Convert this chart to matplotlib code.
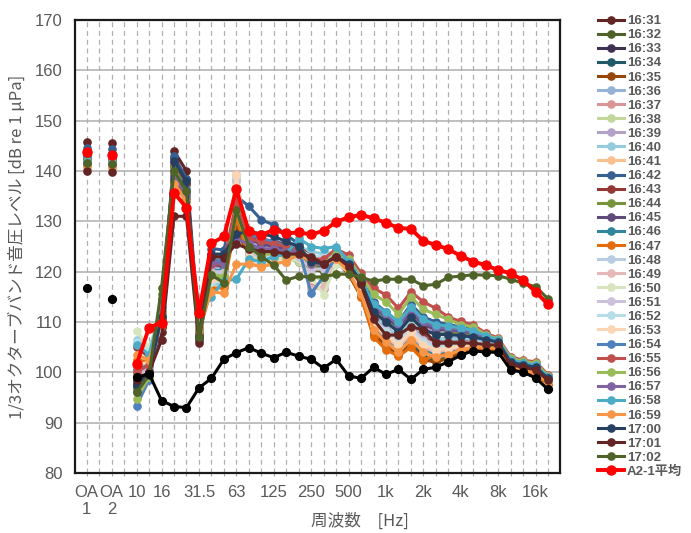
import matplotlib
matplotlib.use("Agg")
import numpy as np
import matplotlib.pyplot as plt
from matplotlib.font_manager import FontProperties

# ---- category axis: two overall values, then 1/3-octave bands 10 Hz .. 20 kHz ----
categories = ["OA\n1", "", "OA\n2", "",
              "10", "", "16", "", "", "31.5", "", "", "63", "", "", "125", "", "",
              "250", "", "", "500", "", "", "1k", "", "", "2k", "", "", "4k", "", "",
              "8k", "", "", "16k", ""]

times = ["16:31", "16:32", "16:33", "16:34", "16:35", "16:36", "16:37", "16:38",
         "16:39", "16:40", "16:41", "16:42", "16:43", "16:44", "16:45", "16:46",
         "16:47", "16:48", "16:49", "16:50", "16:51", "16:52", "16:53", "16:54",
         "16:55", "16:56", "16:57", "16:58", "16:59", "17:00", "17:01", "17:02"]

colors = ["#632523", "#4F6228", "#3F3151", "#215968", "#974807",
          "#95B3D7", "#D99694", "#C3D69B", "#B3A2C7", "#93CDDD", "#FAC090",
          "#376092", "#953735", "#77933C", "#604A7B", "#31859C", "#E46C0A",
          "#B9CDE5", "#E6B9B8", "#D7E4BD", "#CCC1DA", "#B7DEE8", "#FCD5B5",
          "#4F81BD", "#C0504D", "#9BBB59", "#8064A2", "#4BACC6", "#F79646",
          "#254061", "#632523", "#4F6228"]

# overall levels (OA1, OA2) per minute
oa1 = [145.7, 142.0, 141.0, 140.5, 140.8, 141.8, 141.5, 141.3, 141.6, 141.9, 140.6,
       144.5, 143.0, 142.5, 142.2, 141.2, 140.9, 140.7, 140.4, 140.2, 140.3, 140.5,
       140.1, 142.8, 142.0, 142.0, 141.5, 141.8, 141.0, 143.5, 140.0, 141.5]
oa2 = [145.6, 141.8, 140.8, 140.3, 140.6, 141.5, 141.2, 141.0, 141.4, 141.7, 140.4,
       144.4, 142.8, 142.3, 142.0, 141.0, 140.7, 140.5, 140.2, 140.0, 140.1, 140.3,
       140.0, 142.6, 141.8, 141.8, 141.3, 141.6, 140.8, 143.3, 139.9, 141.3]

# 1/3-octave band levels per minute (10 Hz .. 20 kHz, 34 bands)
bands = [
    # 16:31
    [100.5, 102.0, 108.0, 144.0, 140.0, 108.5, 121.0, 121.5, 131.0, 126.0,
     125.0, 124.5, 124.0, 124.0, 122.0, 121.5, 123.0, 121.0, 117.0, 110.5,
     108.5, 106.5, 109.0, 106.5, 105.5, 105.5, 105.8, 105.8, 105.5, 105.2,
     101.5, 101.0, 100.6, 98.5],
    # 16:32
    [97.5, 100.5, 114.5, 141.0, 137.5, 107.5, 119.5, 119.0, 133.0, 124.5,
     123.5, 123.0, 122.5, 122.0, 120.5, 120.0, 122.0, 120.0, 116.0, 109.0,
     107.0, 105.0, 107.5, 104.5, 104.0, 104.5, 105.0, 105.5, 105.3, 105.0,
     101.2, 100.8, 100.2, 98.0],
    # 16:33
    [98.0, 100.0, 109.0, 142.5, 138.5, 106.5, 120.5, 120.0, 128.5, 125.5,
     124.5, 124.0, 123.5, 123.0, 121.0, 121.0, 122.5, 120.5, 116.5, 110.0,
     108.0, 106.0, 108.5, 106.0, 105.0, 105.2, 105.5, 105.8, 105.5, 105.2,
     101.3, 100.9, 100.4, 98.3],
    # 16:34
    [99.0, 101.0, 110.5, 139.5, 135.5, 107.0, 118.5, 119.5, 129.5, 124.0,
     123.0, 123.0, 123.0, 123.5, 121.5, 121.0, 123.0, 120.0, 115.5, 108.0,
     105.0, 104.0, 106.0, 103.0, 102.5, 103.0, 104.0, 104.8, 104.8, 104.6,
     100.8, 100.4, 99.8, 97.8],
    # 16:35
    [99.5, 100.5, 109.5, 138.0, 134.0, 108.0, 119.0, 120.0, 128.0, 123.5,
     122.5, 122.5, 122.0, 123.0, 120.5, 120.5, 122.0, 119.5, 115.0, 107.5,
     105.5, 103.5, 105.5, 102.5, 102.0, 102.8, 103.8, 104.5, 104.6, 104.5,
     100.7, 100.3, 99.7, 97.6],
    # 16:36
    [100.0, 101.5, 110.0, 137.5, 134.5, 109.5, 120.5, 120.0, 135.5, 125.0,
     124.0, 124.5, 124.0, 124.5, 122.0, 122.0, 123.5, 121.0, 117.5, 111.5,
     109.0, 107.0, 109.5, 107.5, 106.5, 106.8, 106.8, 106.8, 106.2, 105.8,
     101.8, 101.3, 100.8, 98.6],
    # 16:37
    [99.5, 101.0, 110.5, 137.0, 134.0, 110.0, 119.5, 119.0, 136.5, 124.5,
     123.0, 123.5, 123.0, 123.0, 117.0, 116.5, 122.0, 121.0, 117.0, 111.0,
     108.5, 106.5, 109.0, 107.0, 106.0, 106.0, 106.2, 106.4, 106.0, 105.6,
     101.6, 101.2, 100.7, 98.5],
    # 16:38
    [101.0, 102.0, 111.0, 136.5, 133.5, 109.0, 118.0, 118.5, 137.0, 123.0,
     122.0, 122.5, 122.5, 122.0, 119.5, 118.0, 121.5, 120.5, 117.5, 112.0,
     110.0, 108.0, 110.5, 108.5, 107.5, 107.5, 107.5, 107.3, 106.5, 106.0,
     102.0, 101.5, 101.0, 98.8],
    # 16:39
    [98.5, 100.5, 111.5, 139.0, 135.5, 109.5, 121.0, 121.0, 134.0, 126.0,
     125.0, 124.5, 124.0, 124.0, 121.5, 121.5, 123.0, 121.5, 118.0, 112.5,
     110.5, 108.5, 111.5, 109.0, 108.0, 108.0, 107.8, 107.5, 106.8, 106.2,
     102.1, 101.6, 101.0, 98.8],
    # 16:40
    [106.5, 104.5, 112.5, 136.0, 133.5, 111.0, 117.5, 117.5, 138.0, 122.5,
     122.0, 123.0, 123.5, 125.0, 124.0, 123.5, 124.0, 121.5, 117.0, 111.0,
     109.0, 107.0, 110.0, 107.5, 106.5, 106.5, 106.5, 106.6, 106.0, 105.5,
     101.5, 101.1, 100.5, 98.4],
    # 16:41
    [102.0, 102.5, 111.0, 136.0, 133.0, 110.5, 117.0, 116.5, 138.5, 122.0,
     121.0, 122.0, 122.5, 123.5, 122.5, 122.5, 123.5, 121.0, 116.5, 110.5,
     108.0, 106.0, 108.5, 106.0, 105.0, 105.2, 105.5, 105.8, 105.6, 105.2,
     101.3, 100.9, 100.3, 98.2],
    # 16:42
    [98.0, 100.5, 112.0, 143.0, 138.5, 107.5, 124.6, 124.3, 135.0, 133.0,
     130.3, 129.3, 127.3, 125.5, 121.5, 121.5, 123.0, 122.0, 119.0, 114.0,
     112.0, 110.0, 113.5, 111.0, 110.0, 109.5, 109.0, 108.5, 107.5, 106.5,
     102.5, 102.0, 101.5, 99.2],
    # 16:43
    [105.0, 103.0, 109.0, 141.5, 137.5, 108.0, 123.3, 123.0, 131.5, 127.0,
     126.5, 126.0, 125.5, 125.0, 123.0, 122.5, 123.5, 121.5, 117.5, 110.5,
     108.5, 106.5, 108.8, 106.8, 106.0, 106.0, 106.0, 106.0, 105.7, 105.3,
     101.6, 101.2, 100.7, 98.6],
    # 16:44
    [96.5, 99.5, 115.5, 140.5, 136.5, 108.0, 119.0, 118.5, 132.5, 124.0,
     123.0, 123.0, 122.5, 122.5, 121.0, 120.5, 122.5, 121.5, 117.5, 112.0,
     110.5, 108.5, 111.0, 108.5, 107.5, 107.8, 107.6, 107.4, 106.8, 106.2,
     102.2, 101.6, 101.1, 98.9],
    # 16:45
    [97.0, 100.0, 110.5, 139.5, 136.0, 107.5, 121.5, 121.0, 130.0, 126.5,
     125.5, 125.0, 124.5, 124.5, 122.5, 122.0, 123.5, 121.5, 118.0, 113.0,
     111.0, 109.0, 112.0, 109.5, 108.5, 108.5, 108.2, 107.8, 107.0, 106.3,
     102.3, 101.8, 101.3, 99.0],
    # 16:46
    [100.5, 101.5, 111.0, 138.5, 135.0, 108.5, 120.0, 120.5, 132.0, 125.0,
     124.0, 124.0, 123.5, 124.0, 122.0, 122.0, 123.5, 121.0, 116.5, 109.5,
     106.5, 105.0, 107.0, 104.5, 103.5, 104.0, 104.8, 105.3, 105.2, 105.0,
     101.1, 100.7, 100.1, 98.1],
    # 16:47
    [102.5, 102.0, 109.5, 137.5, 134.0, 108.0, 116.5, 117.0, 130.5, 123.0,
     122.5, 122.5, 123.0, 124.5, 121.5, 121.5, 122.5, 120.0, 115.0, 107.0,
     104.5, 103.2, 105.0, 102.4, 103.4, 103.5, 104.2, 104.8, 104.8, 104.6,
     100.6, 100.3, 99.6, 97.6],
    # 16:48
    [100.0, 101.0, 110.0, 137.0, 134.0, 109.5, 119.5, 119.5, 138.5, 124.0,
     123.0, 123.5, 123.5, 124.0, 122.5, 122.0, 123.5, 121.0, 116.5, 110.0,
     107.5, 105.5, 108.0, 105.5, 104.5, 104.8, 105.2, 105.6, 105.5, 105.2,
     101.3, 100.8, 100.3, 98.2],
    # 16:49
    [99.0, 100.5, 110.5, 136.5, 133.5, 110.5, 118.5, 118.0, 139.5, 123.5,
     122.5, 123.0, 123.0, 123.5, 116.5, 117.0, 122.0, 120.5, 116.0, 109.5,
     107.0, 105.0, 107.5, 105.0, 104.0, 104.5, 105.0, 105.4, 105.3, 105.0,
     101.2, 100.7, 100.2, 98.1],
    # 16:50
    [108.2, 105.0, 111.5, 135.5, 133.0, 109.0, 118.0, 118.5, 139.0, 123.0,
     122.0, 122.5, 122.0, 122.5, 119.0, 115.4, 121.5, 120.0, 116.0, 110.0,
     108.0, 106.0, 108.5, 106.0, 105.0, 105.2, 105.6, 105.8, 105.6, 105.2,
     101.4, 100.9, 100.4, 98.3],
    # 16:51
    [98.5, 100.5, 110.0, 137.0, 134.5, 109.0, 120.0, 120.0, 138.0, 124.5,
     123.5, 123.5, 123.0, 123.0, 120.5, 120.5, 122.5, 120.5, 116.5, 110.5,
     108.5, 106.5, 109.0, 106.5, 105.5, 105.6, 105.8, 106.0, 105.8, 105.4,
     101.5, 101.0, 100.5, 98.4],
    # 16:52
    [106.0, 104.0, 111.5, 136.0, 133.0, 111.0, 118.0, 118.0, 139.0, 123.0,
     122.5, 123.0, 123.5, 124.5, 123.0, 123.0, 124.0, 121.0, 116.5, 110.5,
     108.0, 106.0, 108.5, 106.0, 105.0, 105.3, 105.6, 105.8, 105.5, 105.1,
     101.4, 100.9, 100.4, 98.3],
    # 16:53
    [101.5, 102.0, 110.5, 136.5, 133.5, 110.5, 118.5, 118.0, 139.2, 123.0,
     122.0, 122.5, 123.0, 124.0, 122.0, 122.0, 123.0, 120.5, 116.0, 109.5,
     107.5, 105.5, 108.0, 105.5, 104.5, 104.8, 105.2, 105.5, 105.4, 105.1,
     101.3, 100.8, 100.2, 98.2],
    # 16:54
    [93.4, 98.5, 111.5, 140.0, 136.5, 108.5, 122.5, 122.0, 133.5, 127.5,
     126.5, 126.0, 125.0, 124.5, 115.7, 119.0, 123.0, 122.0, 118.5, 113.5,
     111.5, 109.5, 112.5, 110.0, 109.0, 108.8, 108.5, 108.0, 107.2, 106.4,
     102.4, 101.9, 101.4, 99.1],
    # 16:55
    [100.0, 101.5, 110.5, 138.0, 134.5, 110.0, 121.5, 121.5, 134.0, 126.5,
     126.0, 125.5, 125.0, 124.5, 122.5, 122.5, 124.5, 123.3, 119.7, 116.7,
     115.4, 112.7, 116.0, 114.0, 112.7, 111.0, 110.1, 109.4, 107.8, 106.8,
     103.1, 102.4, 102.1, 99.5],
    # 16:56
    [94.8, 99.0, 112.0, 139.5, 135.5, 108.5, 119.5, 119.0, 132.0, 124.5,
     123.5, 123.5, 123.0, 123.5, 121.5, 121.5, 123.5, 122.5, 119.0, 115.5,
     114.0, 111.5, 115.0, 112.5, 111.5, 110.5, 109.5, 109.0, 107.5, 106.6,
     102.8, 102.2, 101.8, 99.3],
    # 16:57
    [96.0, 99.5, 111.0, 139.0, 135.5, 109.0, 122.0, 121.5, 126.5, 125.5,
     124.5, 124.5, 124.0, 124.0, 121.5, 121.5, 123.0, 121.5, 118.0, 113.0,
     111.5, 109.5, 112.5, 110.0, 109.0, 108.8, 108.5, 108.0, 107.0, 106.3,
     102.3, 101.8, 101.3, 99.0],
    # 16:58
    [105.5, 103.5, 113.0, 137.5, 134.0, 111.5, 115.0, 118.2, 118.5, 122.5,
     122.0, 123.0, 123.5, 126.6, 125.0, 124.6, 125.0, 122.0, 118.5, 113.5,
     112.0, 110.0, 113.0, 110.5, 109.5, 109.2, 108.8, 108.3, 107.3, 106.4,
     102.4, 101.9, 101.4, 99.1],
    # 16:59
    [103.5, 102.5, 110.0, 137.5, 134.0, 109.0, 116.0, 115.7, 121.5, 121.5,
     121.0, 121.5, 122.0, 123.5, 122.0, 121.5, 122.5, 120.0, 115.5, 108.5,
     106.0, 104.0, 106.5, 104.0, 103.0, 103.5, 104.5, 105.0, 105.0, 104.8,
     100.9, 100.5, 99.9, 98.0],
    # 17:00
    [97.5, 100.0, 111.0, 142.0, 138.0, 107.0, 123.5, 123.5, 127.5, 128.0,
     127.5, 127.0, 126.0, 125.0, 122.0, 121.5, 123.0, 121.5, 118.0, 112.0,
     110.0, 108.0, 111.0, 108.5, 107.5, 107.5, 107.3, 107.0, 106.5, 106.0,
     102.0, 101.5, 101.0, 98.8],
    # 17:01
    [98.5, 100.0, 106.4, 131.0, 131.0, 105.8, 123.0, 122.8, 125.5, 124.5,
     124.0, 124.0, 123.5, 123.5, 123.0, 121.5, 123.0, 121.0, 117.5, 110.5,
     107.4, 107.4, 109.1, 108.4, 105.8, 105.8, 105.8, 105.8, 105.5, 105.4,
     101.5, 101.0, 100.5, 98.4],
    # 17:02
    [96.0, 99.5, 116.8, 140.0, 136.0, 107.0, 119.3, 117.8, 132.2, 125.0,
     123.0, 121.3, 118.3, 119.1, 118.9, 119.0, 119.5, 119.5, 118.9, 118.1,
     118.5, 118.5, 118.5, 117.2, 117.5, 118.9, 119.1, 119.4, 119.3, 119.2,
     118.5, 117.7, 117.0, 114.6],
]

# average over the period
mean_label = "A2-1平均"
mean_oa = [143.8, 143.2]
mean_bands = [101.6, 108.9, 109.9, 135.7, 132.7, 111.8, 125.6, 127.0, 136.4, 128.0,
              127.3, 128.3, 127.6, 127.8, 127.4, 128.1, 129.9, 130.8, 131.3, 130.6,
              129.7, 128.7, 128.5, 126.1, 125.3, 124.5, 123.1, 122.0, 121.3, 120.3,
              119.7, 118.3, 116.0, 113.5]

# background level
bg_oa = [116.7, 114.5]
bg_bands = [99.0, 99.7, 94.4, 93.2, 93.0, 96.9, 98.8, 102.6, 103.9, 104.9,
            103.8, 102.9, 104.0, 103.2, 102.6, 100.8, 102.6, 99.3, 98.8, 101.0,
            99.6, 100.6, 98.6, 100.6, 101.0, 102.1, 103.4, 104.3, 104.0, 104.0,
            100.5, 100.0, 98.9, 96.6]


def row(oa_a, oa_b, band_vals):
    return np.array([oa_a, np.nan, oa_b, np.nan] + list(band_vals), dtype=float)


GRAY = "#595959"
x = np.arange(len(categories))

fig = plt.figure(figsize=(6.91, 5.33), dpi=100)
ax = fig.add_axes([75 / 691, 60 / 533, 485.3 / 691, 453 / 533])

handles = []
for name, col, a, b, vals in zip(times, colors, oa1, oa2, bands):
    ln, = ax.plot(x, row(a, b, vals), color=col, lw=2.2, marker="o", ms=5.2,
                  mec=col, mfc=col, label=name, zorder=3)
    handles.append(ln)

ax.plot(x, row(bg_oa[0], bg_oa[1], bg_bands), color="black", lw=2.2, marker="o",
        ms=5.6, label="_nolegend_", zorder=4)
ln_mean, = ax.plot(x, row(mean_oa[0], mean_oa[1], mean_bands), color="#FF0000",
                   lw=2.8, marker="o", ms=6.5, label=mean_label, zorder=5)
handles.append(ln_mean)

ax.set_xlim(-0.94, 37.98)
ax.set_ylim(80, 170)
ax.set_yticks(np.arange(80, 171, 10))
ax.set_xticks(x)
ax.set_xticklabels(categories, fontsize=12, color=GRAY, family="Liberation Sans",
                   linespacing=1.15)
for t in ax.get_yticklabels():
    t.set_fontsize(12)
    t.set_color(GRAY)
    t.set_family("Liberation Sans")
ax.tick_params(axis="x", length=2.5, width=0.8, color="#A6A6A6", pad=6)
ax.tick_params(axis="y", length=0, pad=9)

ax.set_axisbelow(True)
ax.yaxis.grid(True, color="#ADADAD", lw=1.1, ls="-")
ax.xaxis.grid(True, color="#B0B0B0", lw=0.9, ls=(0, (4, 3)))
for s in ax.spines.values():
    s.set_color("#1A1A1A")
    s.set_linewidth(1.6)

label_font = ["Noto Sans CJK JP", "DejaVu Sans"]
fig.text(17 / 691, 1 - 246.5 / 533, "1/3オクターブバンド音圧レベル [dB re 1 μPa]",
         rotation=90, ha="center", va="center", fontsize=12, color=GRAY,
         family=label_font)
fig.text(360 / 691, 1 - 521.5 / 533, "周波数　[Hz]", ha="center", va="center",
         fontsize=12, color=GRAY, family=label_font)

leg_font = FontProperties(family=["Liberation Sans", "Noto Sans CJK JP"],
                          weight="bold", size=9.5)
leg = fig.legend(handles, [h.get_label() for h in handles], loc="upper left",
                 bbox_to_anchor=(598 / 691, 1 - 15 / 533), frameon=False,
                 prop=leg_font, handlelength=2.0, handletextpad=0.2,
                 labelspacing=0.14, borderpad=0, borderaxespad=0)
for t in leg.get_texts():
    t.set_color(GRAY)

fig.savefig("out.png", dpi=100, facecolor="white")
